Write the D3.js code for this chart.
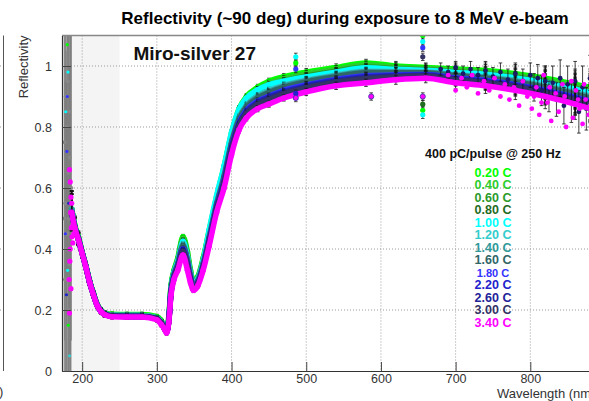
<!DOCTYPE html>
<html>
<head>
<meta charset="utf-8">
<script src="https://cdn.jsdelivr.net/npm/d3@7"></script>
<style>
  body { margin: 0; background: #fff; }
  svg { display: block; font-family: 'Liberation Sans', Arial, sans-serif; }
</style>
</head>
<body>
<svg id="chart" width="589" height="401"></svg>
<script>
// Values (reflectivity vs wavelength, nm).
const WAVELENGTHS = [186, 190, 195, 200, 205, 210, 215, 220, 225, 230, 240, 260,
  280, 300, 306, 310, 313, 316, 319, 323, 328, 335, 341, 345, 349, 355, 362,
  370, 380, 390, 400, 410, 420, 435, 450, 470, 500, 540, 580, 620, 660, 700,
  740, 780, 820, 860, 880];

const CHARGES = ['0.20 C', '0.40 C', '0.60 C', '0.80 C', '1.00 C', '1.20 C',
  '1.40 C', '1.60 C', '1.80 C', '2.20 C', '2.60 C', '3.00 C', '3.40 C'];

const SERIES_COLORS = ['#00ff00', '#2ccc2c', '#2a9a2a', '#1f6b1f', '#00ffff',
  '#33cccc', '#2f9999', '#2f6666', '#3333ff', '#2222cc', '#222299', '#333366',
  '#ff00ff'];

const R_020 = [0.53, 0.48, 0.44, 0.39, 0.345, 0.295, 0.255, 0.22, 0.2, 0.19,
  0.186, 0.185, 0.185, 0.178, 0.165, 0.15, 0.14, 0.18, 0.28, 0.33, 0.37, 0.44,
  0.39, 0.33, 0.295, 0.31, 0.37, 0.46, 0.57, 0.67, 0.78, 0.86, 0.9, 0.93, 0.95,
  0.965, 0.98, 0.995, 1.01, 1.0, 0.995, 0.99, 0.985, 0.975, 0.96, 0.94, 0.93];
const R_040 = [0.53, 0.475, 0.435, 0.388, 0.343, 0.293, 0.253, 0.218, 0.198,
  0.188, 0.183, 0.182, 0.182, 0.174, 0.16, 0.145, 0.133, 0.17, 0.277, 0.327,
  0.366, 0.434, 0.384, 0.326, 0.292, 0.307, 0.366, 0.455, 0.565, 0.663, 0.773,
  0.853, 0.893, 0.923, 0.943, 0.958, 0.974, 0.989, 1.004, 0.996, 0.992, 0.986,
  0.98, 0.97, 0.954, 0.934, 0.923];
const R_060 = [0.53, 0.475, 0.435, 0.388, 0.343, 0.293, 0.253, 0.218, 0.198,
  0.188, 0.183, 0.182, 0.182, 0.174, 0.16, 0.145, 0.133, 0.17, 0.274, 0.324,
  0.362, 0.428, 0.378, 0.322, 0.289, 0.304, 0.362, 0.45, 0.56, 0.656, 0.766,
  0.846, 0.886, 0.916, 0.935, 0.951, 0.967, 0.983, 0.997, 0.991, 0.988, 0.981,
  0.975, 0.964, 0.948, 0.927, 0.916];
const R_080 = [0.53, 0.475, 0.435, 0.388, 0.343, 0.293, 0.253, 0.218, 0.198,
  0.188, 0.183, 0.182, 0.182, 0.174, 0.16, 0.145, 0.133, 0.17, 0.271, 0.321,
  0.358, 0.422, 0.372, 0.318, 0.286, 0.301, 0.358, 0.445, 0.555, 0.649, 0.759,
  0.839, 0.879, 0.909, 0.928, 0.944, 0.961, 0.977, 0.991, 0.987, 0.985, 0.977,
  0.97, 0.959, 0.942, 0.921, 0.909];
const R_100 = [0.53, 0.475, 0.435, 0.388, 0.343, 0.293, 0.253, 0.218, 0.198,
  0.188, 0.183, 0.182, 0.182, 0.174, 0.16, 0.145, 0.133, 0.17, 0.273, 0.323,
  0.36, 0.425, 0.375, 0.32, 0.288, 0.303, 0.362, 0.462, 0.575, 0.672, 0.782,
  0.858, 0.895, 0.922, 0.938, 0.95, 0.964, 0.98, 0.994, 0.989, 0.986, 0.979,
  0.973, 0.961, 0.945, 0.924, 0.913];
const R_120 = [0.53, 0.475, 0.435, 0.388, 0.343, 0.293, 0.253, 0.218, 0.198,
  0.188, 0.183, 0.182, 0.182, 0.174, 0.16, 0.145, 0.133, 0.17, 0.268, 0.318,
  0.354, 0.416, 0.366, 0.314, 0.283, 0.298, 0.354, 0.44, 0.55, 0.642, 0.752,
  0.832, 0.872, 0.902, 0.92, 0.937, 0.954, 0.971, 0.984, 0.982, 0.981, 0.972,
  0.965, 0.953, 0.936, 0.914, 0.902];
const R_140 = [0.53, 0.475, 0.435, 0.388, 0.343, 0.293, 0.253, 0.218, 0.198,
  0.188, 0.183, 0.182, 0.182, 0.174, 0.16, 0.145, 0.133, 0.17, 0.267, 0.317,
  0.352, 0.413, 0.363, 0.312, 0.282, 0.297, 0.352, 0.438, 0.548, 0.639, 0.749,
  0.829, 0.869, 0.899, 0.916, 0.934, 0.951, 0.968, 0.981, 0.98, 0.979, 0.97,
  0.963, 0.95, 0.933, 0.911, 0.899];
const R_160 = [0.52, 0.472, 0.432, 0.386, 0.341, 0.291, 0.251, 0.216, 0.196,
  0.186, 0.18, 0.179, 0.179, 0.171, 0.156, 0.141, 0.128, 0.165, 0.265, 0.315,
  0.35, 0.41, 0.36, 0.31, 0.28, 0.295, 0.35, 0.435, 0.545, 0.635, 0.745, 0.825,
  0.865, 0.895, 0.913, 0.93, 0.948, 0.965, 0.978, 0.978, 0.978, 0.968, 0.96,
  0.948, 0.93, 0.908, 0.895];
const R_180 = [0.52, 0.472, 0.432, 0.386, 0.341, 0.291, 0.251, 0.216, 0.196,
  0.186, 0.18, 0.179, 0.179, 0.171, 0.156, 0.141, 0.128, 0.165, 0.261, 0.311,
  0.344, 0.401, 0.351, 0.304, 0.276, 0.291, 0.344, 0.428, 0.538, 0.625, 0.735,
  0.815, 0.855, 0.885, 0.901, 0.92, 0.938, 0.956, 0.968, 0.971, 0.972, 0.961,
  0.953, 0.939, 0.921, 0.898, 0.885];
const R_220 = [0.52, 0.472, 0.432, 0.386, 0.341, 0.291, 0.251, 0.216, 0.196,
  0.186, 0.18, 0.179, 0.179, 0.171, 0.156, 0.141, 0.128, 0.165, 0.259, 0.309,
  0.342, 0.398, 0.348, 0.302, 0.274, 0.289, 0.342, 0.425, 0.535, 0.621, 0.731,
  0.811, 0.851, 0.881, 0.898, 0.916, 0.935, 0.953, 0.965, 0.969, 0.971, 0.959,
  0.95, 0.937, 0.918, 0.895, 0.881];
const R_260 = [0.52, 0.472, 0.432, 0.386, 0.341, 0.291, 0.251, 0.216, 0.196,
  0.186, 0.18, 0.179, 0.179, 0.171, 0.156, 0.141, 0.128, 0.165, 0.258, 0.308,
  0.34, 0.395, 0.345, 0.3, 0.273, 0.288, 0.34, 0.423, 0.533, 0.618, 0.728,
  0.808, 0.848, 0.878, 0.894, 0.913, 0.931, 0.95, 0.961, 0.966, 0.969, 0.956,
  0.948, 0.934, 0.915, 0.891, 0.878];
const R_300 = [0.52, 0.472, 0.432, 0.386, 0.341, 0.291, 0.251, 0.216, 0.196,
  0.186, 0.18, 0.179, 0.179, 0.171, 0.156, 0.141, 0.128, 0.165, 0.256, 0.306,
  0.338, 0.392, 0.342, 0.298, 0.271, 0.286, 0.338, 0.42, 0.53, 0.614, 0.724,
  0.804, 0.844, 0.874, 0.89, 0.909, 0.928, 0.947, 0.958, 0.964, 0.967, 0.954,
  0.945, 0.931, 0.912, 0.888, 0.874];
const R_340 = [0.52, 0.47, 0.43, 0.385, 0.34, 0.29, 0.25, 0.215, 0.195, 0.185,
  0.178, 0.177, 0.177, 0.168, 0.152, 0.138, 0.125, 0.16, 0.25, 0.3, 0.33, 0.38,
  0.33, 0.29, 0.265, 0.28, 0.33, 0.41, 0.52, 0.6, 0.71, 0.79, 0.83, 0.86, 0.875,
  0.895, 0.915, 0.935, 0.945, 0.955, 0.96, 0.945, 0.935, 0.92, 0.9, 0.875, 0.86];

const REFLECTIVITY = [R_020, R_040, R_060, R_080, R_100, R_120, R_140, R_160,
  R_180, R_220, R_260, R_300, R_340];

const ERRORS = [0.06, 0.03, 0.02, 0.015, 0.012, 0.01, 0.01, 0.008, 0.008, 0.008,
  0.008, 0.008, 0.008, 0.008, 0.008, 0.008, 0.008, 0.008, 0.008, 0.008, 0.008,
  0.008, 0.008, 0.008, 0.008, 0.008, 0.008, 0.008, 0.008, 0.008, 0.01, 0.01,
  0.01, 0.01, 0.01, 0.01, 0.012, 0.012, 0.012, 0.015, 0.015, 0.02, 0.025, 0.03,
  0.04, 0.05, 0.06];

// The noisy detector edge below ~186 nm.
const UV_LAMBDA = [176, 176.5, 177, 177.5, 178, 178.5, 179, 179.5, 180, 180.5,
  181, 181.5, 182, 182.5, 183, 183.5, 184, 184.5, 185, 185.5];
const UV_VALUE = [0.5, 0.75, 0.3, 0.55, 0.9, 0.4, 0.3, 0.8, 0.45, 0.95, 0.2,
  0.65, 0.5, 0.85, 0.35, 0.7, 0.6, 0.5, 0.55, 0.6];
const UV_ERROR = [0.65, 0.65, 0.65, 0.65, 0.65, 0.65, 0.65, 0.65, 0.65, 0.65,
  0.65, 0.65, 0.65, 0.65, 0.65, 0.65, 0.65, 0.65, 0.6, 0.5];
// [wavelength, reflectivity, series index]
const UV_DOTS = [[180, 1.07, 0], [181, 0.98, 4], [179.5, 0.72, 8],
  [182, 0.55, 9], [180.5, 0.33, 4], [181.5, 0.15, 0], [183, 0.05, 5],
  [180, 0.9, 8], [182.5, 0.62, 5], [179, 0.25, 9], [178, 0.85, 4],
  [177.5, 0.45, 8]];
const MAGENTA_UV = [[183, 0.66], [184, 0.62], [185, 0.57], [184.5, 0.52],
  [186, 0.55], [187, 0.5], [185.5, 0.47], [188, 0.48], [186.5, 0.44],
  [189, 0.45], [187.5, 0.42], [184, 0.4], [183.5, 0.36], [182.5, 0.3],
  [183, 0.19], [185, 0.27]];

// Scatter at the long-wavelength end.
const MAGENTA_LONG = [[690, 0.97], [700, 0.92], [708, 0.96], [715, 0.93],
  [722, 0.97], [730, 0.91], [738, 0.95], [745, 0.92], [752, 0.96], [760, 0.9],
  [766, 0.94], [772, 0.89], [778, 0.93], [785, 0.87], [790, 0.95], [796, 0.9],
  [802, 0.86], [808, 0.93], [812, 0.84], [818, 0.97], [823, 0.88], [828, 0.82],
  [834, 0.91], [838, 0.85], [843, 0.94], [848, 0.8], [852, 0.88], [857, 0.83],
  [861, 0.92], [866, 0.86], [870, 0.81], [874, 0.89], [878, 0.84], [882, 0.93],
  [886, 0.87], [890, 0.79], [895, 0.85], [805, 0.9], [815, 0.88], [826, 0.93],
  [846, 0.9], [855, 0.95], [864, 0.89], [872, 0.94], [880, 0.87]];
// [wavelength, reflectivity, error]
const DARK_LONG = [[680, 0.99, 0.02], [690, 0.98, 0.02], [700, 0.995, 0.02],
  [710, 0.975, 0.025], [720, 0.99, 0.025], [730, 0.97, 0.025],
  [740, 0.985, 0.03], [750, 0.965, 0.03], [760, 0.98, 0.03],
  [770, 0.955, 0.035], [780, 0.975, 0.035], [790, 0.95, 0.04],
  [800, 0.97, 0.04], [805, 0.93, 0.045], [810, 0.96, 0.045],
  [815, 0.92, 0.05], [820, 0.95, 0.05], [825, 0.9, 0.05], [830, 0.945, 0.055],
  [835, 0.89, 0.055], [840, 0.96, 0.06], [845, 0.87, 0.06], [850, 0.94, 0.06],
  [855, 0.88, 0.065], [860, 0.95, 0.065], [865, 0.85, 0.07], [870, 0.93, 0.07],
  [875, 0.86, 0.07], [880, 0.96, 0.075], [885, 0.84, 0.075], [890, 0.92, 0.08],
  [895, 0.87, 0.08]];

// Isolated outliers at lamp lines: [wavelength, reflectivity, series index]
const SPIKES = [[486, 1.03, 4], [486, 1.01, 0], [486, 0.99, 8],
  [486, 0.91, 9], [486, 0.895, 12], [587, 0.9, 12], [656, 1.1, 0],
  [656, 1.08, 4], [656, 1.06, 8], [656, 1.03, 11], [656, 0.9, 12],
  [656, 0.875, 3], [656, 0.855, 0], [656, 0.84, 4]];

const SHADED_RANGE = [173, 250];
const X_DOMAIN = [173, 900];
const Y_DOMAIN = [0, 1.1];
const X_TICKS = [200, 300, 400, 500, 600, 700, 800];
const Y_TICKS = [0, 0.2, 0.4, 0.6, 0.8, 1];
const Y_TICK_LABELS = ['0', '0.2', '0.4', '0.6', '0.8', '1'];

// Layout
const FRAME_LEFT = 62;
const FRAME_RIGHT = 605;
const FRAME_TOP = 35.5;
const FRAME_BOTTOM = 371;

const svg = d3.select('#chart');
const x = d3.scaleLinear().domain(X_DOMAIN).range([FRAME_LEFT, FRAME_RIGHT]);
const y = d3.scaleLinear().domain(Y_DOMAIN).range([FRAME_BOTTOM, FRAME_TOP]);

function drawBackground() {
  // Tail of the neighbouring pad on the left.
  svg.append('line')
      .attr('x1', 3.5).attr('x2', 3.5)
      .attr('y1', FRAME_TOP).attr('y2', FRAME_BOTTOM)
      .attr('stroke', '#555');
  svg.append('text')
      .attr('x', -1).attr('y', 396)
      .attr('font-size', 13).attr('fill', '#333')
      .text(')');

  svg.append('rect')
      .attr('x', x(SHADED_RANGE[0])).attr('y', FRAME_TOP)
      .attr('width', x(SHADED_RANGE[1]) - x(SHADED_RANGE[0]))
      .attr('height', FRAME_BOTTOM - FRAME_TOP)
      .attr('fill', '#f4f4f4');

  // Dotted grid.
  let grid = svg.append('g')
      .attr('stroke', '#9a9a9a')
      .attr('stroke-dasharray', '1,2');
  grid.selectAll('line.gx').data(X_TICKS).join('line')
      .attr('x1', d => x(d)).attr('x2', d => x(d))
      .attr('y1', FRAME_TOP).attr('y2', FRAME_BOTTOM);
  grid.selectAll('line.gy').data(Y_TICKS.slice(1)).join('line')
      .attr('x1', FRAME_LEFT).attr('x2', FRAME_RIGHT)
      .attr('y1', d => y(d)).attr('y2', d => y(d));
  // Grid stubs of the neighbouring pad.
  grid.selectAll('line.stub').data(Y_TICKS.slice(1)).join('line')
      .attr('x1', 0).attr('x2', 3)
      .attr('y1', d => y(d)).attr('y2', d => y(d));
}

function errorBars(g, points, color, capWidth) {
  let bars = g.append('g').attr('stroke', color).attr('stroke-width', 0.8);
  bars.selectAll('line.v').data(points).join('line')
      .attr('x1', d => x(d.w)).attr('x2', d => x(d.w))
      .attr('y1', d => y(d.r - d.e)).attr('y2', d => y(d.r + d.e));
  if (!capWidth) return;
  bars.selectAll('line.t').data(points).join('line')
      .attr('x1', d => x(d.w) - capWidth).attr('x2', d => x(d.w) + capWidth)
      .attr('y1', d => y(d.r + d.e)).attr('y2', d => y(d.r + d.e));
  bars.selectAll('line.b').data(points).join('line')
      .attr('x1', d => x(d.w) - capWidth).attr('x2', d => x(d.w) + capWidth)
      .attr('y1', d => y(d.r - d.e)).attr('y2', d => y(d.r - d.e));
}

function drawData() {
  let plot = svg.append('g').attr('clip-path', 'url(#frame-clip)');
  svg.append('clipPath').attr('id', 'frame-clip')
    .append('rect')
      .attr('x', FRAME_LEFT).attr('y', FRAME_TOP)
      .attr('width', FRAME_RIGHT - FRAME_LEFT)
      .attr('height', FRAME_BOTTOM - FRAME_TOP);

  // Noisy column at the short-wavelength edge.
  let uv = UV_LAMBDA.map((w, k) => ({w: w, r: UV_VALUE[k], e: UV_ERROR[k]}));
  errorBars(plot, uv, '#7a7a7a', 0);
  plot.selectAll('circle.uv').data(uv).join('circle')
      .attr('cx', d => x(d.w)).attr('cy', d => y(d.r)).attr('r', 2)
      .attr('fill', '#888');
  plot.selectAll('circle.uvdot').data(UV_DOTS).join('circle')
      .attr('cx', d => x(d[0])).attr('cy', d => y(d[1])).attr('r', 1.6)
      .attr('fill', d => SERIES_COLORS[d[2]]);

  let line = d3.line()
      .x(d => x(d.w))
      .y(d => y(d.r))
      .curve(d3.curveMonotoneX);

  for (let i = 0; i < REFLECTIVITY.length; i++) {
    let values = REFLECTIVITY[i];
    let points = WAVELENGTHS.map((w, k) => ({w: w, r: values[k], e: ERRORS[k]}));
    let g = plot.append('g');
    errorBars(g, points, '#111', 1.8);
    g.append('path')
        .datum(points)
        .attr('d', line)
        .attr('fill', 'none')
        .attr('stroke', SERIES_COLORS[i])
        .attr('stroke-width', 5.5)
        .attr('stroke-linejoin', 'round');
    g.selectAll('circle').data(points).join('circle')
        .attr('cx', d => x(d.w)).attr('cy', d => y(d.r)).attr('r', 2.8)
        .attr('fill', SERIES_COLORS[i]);

    if (i == 11) {
      // Dense black error bars and dark markers in the noisy red end.
      let dark = DARK_LONG.map(d => ({w: d[0], r: d[1], e: d[2]}));
      errorBars(g, dark, '#111', 1.8);
      g.selectAll('circle.dark').data(dark).join('circle')
          .attr('cx', d => x(d.w)).attr('cy', d => y(d.r)).attr('r', 2.4)
          .attr('fill', '#1a1a66');
    }
  }

  // Magenta scatter and outliers go on top.
  plot.selectAll('circle.muv').data(MAGENTA_UV).join('circle')
      .attr('cx', d => x(d[0])).attr('cy', d => y(d[1])).attr('r', 2.6)
      .attr('fill', '#ff00ff');
  plot.selectAll('circle.mlong').data(MAGENTA_LONG).join('circle')
      .attr('cx', d => x(d[0])).attr('cy', d => y(d[1])).attr('r', 2.4)
      .attr('fill', '#ff00ff');
  let spikes = SPIKES.map(d => ({w: d[0], r: d[1], e: 0.012, s: d[2]}));
  errorBars(plot, spikes, '#222', 1.8);
  plot.selectAll('circle.spike').data(spikes).join('circle')
      .attr('cx', d => x(d.w)).attr('cy', d => y(d.r)).attr('r', 2.6)
      .attr('fill', d => SERIES_COLORS[d.s])
      .attr('stroke', d => d.s == 12 ? '#3333aa' : 'none')
      .attr('stroke-width', 0.8);
}

function drawAxes() {
  // Top frame line.
  svg.append('line')
      .attr('x1', FRAME_LEFT).attr('x2', FRAME_RIGHT)
      .attr('y1', FRAME_TOP).attr('y2', FRAME_TOP)
      .attr('stroke', '#888').attr('stroke-width', 1.6);

  let xMajor = d3.axisBottom(x).tickValues(X_TICKS)
      .tickSize(-9).tickSizeOuter(0).tickPadding(3)
      .tickFormat(d3.format('d'));
  let xMinor = d3.axisBottom(x)
      .tickValues(d3.range(180, 900, 20).filter(v => v % 100 != 0))
      .tickSize(-4.5).tickSizeOuter(0).tickFormat('');
  let yMajor = d3.axisLeft(y).tickValues(Y_TICKS)
      .tickSize(-9).tickSizeOuter(0).tickPadding(10)
      .tickFormat((d, k) => Y_TICK_LABELS[k]);
  let yMinor = d3.axisLeft(y)
      .tickValues(d3.range(0.02, 1.1, 0.02))
      .tickSize(-4.5).tickSizeOuter(0).tickFormat('');

  let gx = svg.append('g')
      .attr('transform', 'translate(0,' + FRAME_BOTTOM + ')');
  gx.call(xMinor);
  gx.call(xMajor);
  let gy = svg.append('g')
      .attr('transform', 'translate(' + FRAME_LEFT + ',0)');
  gy.call(yMinor);
  gy.call(yMajor);

  svg.selectAll('.domain').attr('stroke', '#333').attr('stroke-width', 1.2);
  svg.selectAll('.tick line').attr('stroke', '#444');
  svg.selectAll('.tick text')
      .attr('font-family', "'Liberation Sans', Arial, sans-serif")
      .attr('font-size', 12.5).attr('fill', '#333');

  // The right end of this title is cut by the picture edge, as in the source.
  svg.append('text')
      .attr('x', 497).attr('y', 397.5)
      .attr('font-size', 13).attr('fill', '#333')
      .text('Wavelength (nm)');
  svg.append('text')
      .attr('transform', 'translate(27.5,' + FRAME_TOP + ') rotate(-90)')
      .attr('text-anchor', 'end')
      .attr('font-size', 13).attr('fill', '#333')
      .text('Reflectivity');
}

function drawLabels() {
  svg.append('text')
      .attr('x', 345).attr('y', 24)
      .attr('text-anchor', 'middle')
      .attr('font-size', 17).attr('font-weight', 'bold')
      .text('Reflectivity (~90 deg) during exposure to 8 MeV e-beam');
  svg.append('text')
      .attr('x', 256).attr('y', 60)
      .attr('text-anchor', 'end')
      .attr('font-size', 19).attr('font-weight', 'bold')
      .attr('fill', '#111')
      .text('Miro-silver 27');

  // Legend
  let legend = svg.append('g')
      .attr('text-anchor', 'middle')
      .attr('font-weight', 'bold');
  legend.append('text')
      .attr('x', 493).attr('y', 158)
      .attr('font-size', 12.5).attr('fill', '#111')
      .text('400 pC/pulse @ 250 Hz');
  legend.selectAll('text.entry').data(CHARGES).join('text')
      .attr('x', 493)
      .attr('y', (d, i) => 176.5 + i * 12.5)
      .attr('font-size', d => d == '1.80 C' ? 11 : 12.5)
      .attr('fill', (d, i) => SERIES_COLORS[i])
      .text(d => d);
}

function init() {
  drawBackground();
  drawData();
  drawAxes();
  drawLabels();
}

init();
</script>
</body>
</html>
